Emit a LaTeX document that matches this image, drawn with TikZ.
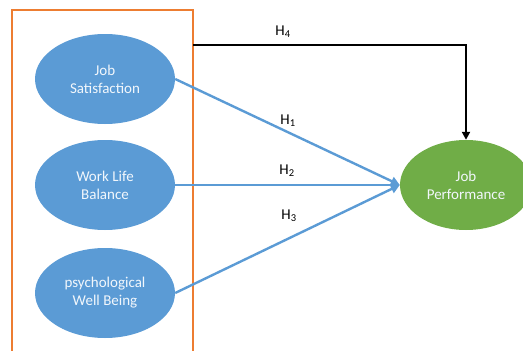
\documentclass[tikz,border=0pt]{standalone}
\usepackage{fontspec}
\setmainfont{Carlito}
\usepackage{tikz}
\usetikzlibrary{arrows.meta,shapes.geometric}
\definecolor{boxorange}{HTML}{ED7D31}
\definecolor{ovalblue}{HTML}{5B9BD5}
\definecolor{ovalgreen}{HTML}{70AD47}

\begin{document}
\begin{tikzpicture}[x=1pt, y=1pt,
  oval/.style={ellipse, fill=ovalblue, draw=none, minimum width=140pt, minimum height=90pt,
    inner sep=0pt, align=center, text=white!92!ovalblue, font=\fontsize{15}{18}\selectfont},
  path/.style={draw=ovalblue, line width=2.4pt, -{Triangle[length=9pt,width=9pt]}},
  hlabel/.style={font=\fontsize{15}{18}\selectfont}]
\useasboundingbox (0,0) rectangle (523,-351);
\clip (0,0) rectangle (523,-351);
%%%%% Frame %%%%%
\draw[boxorange, line width=1.8pt] (12,-360)--(12,-10)--(193,-10)--(193,-360);
\coordinate (h4start) at (193,-45);
%%%%% Constructs %%%%%
\node[oval] (js) at (105,-79) {Job\\Satisfaction};
\node[oval] (wlb) at (105,-185) {Work Life\\Balance};
\node[oval] (pwb) at (105,-293) {psychological\\Well Being};
\node[oval, fill=ovalgreen, minimum width=132pt] (jp) at (466,-185) {Job\\Performance};
%%%%% Hypotheses %%%%%
\draw[path] (js.east) -- (jp.west);
\draw[path] (wlb.east) -- (jp.west);
\draw[path] (pwb.east) -- (jp.west);
\draw[line width=2pt, -{Triangle[length=8pt,width=8pt]}] (h4start) -| (jp.north);
\node[hlabel] (h4) at (283,-32) {H\textsubscript{4}};
\node[hlabel] (h1) at (288,-121) {H\textsubscript{1}};
\node[hlabel] (h2) at (287,-171) {H\textsubscript{2}};
\node[hlabel] (h3) at (289,-216) {H\textsubscript{3}};
\end{tikzpicture}
\end{document}
